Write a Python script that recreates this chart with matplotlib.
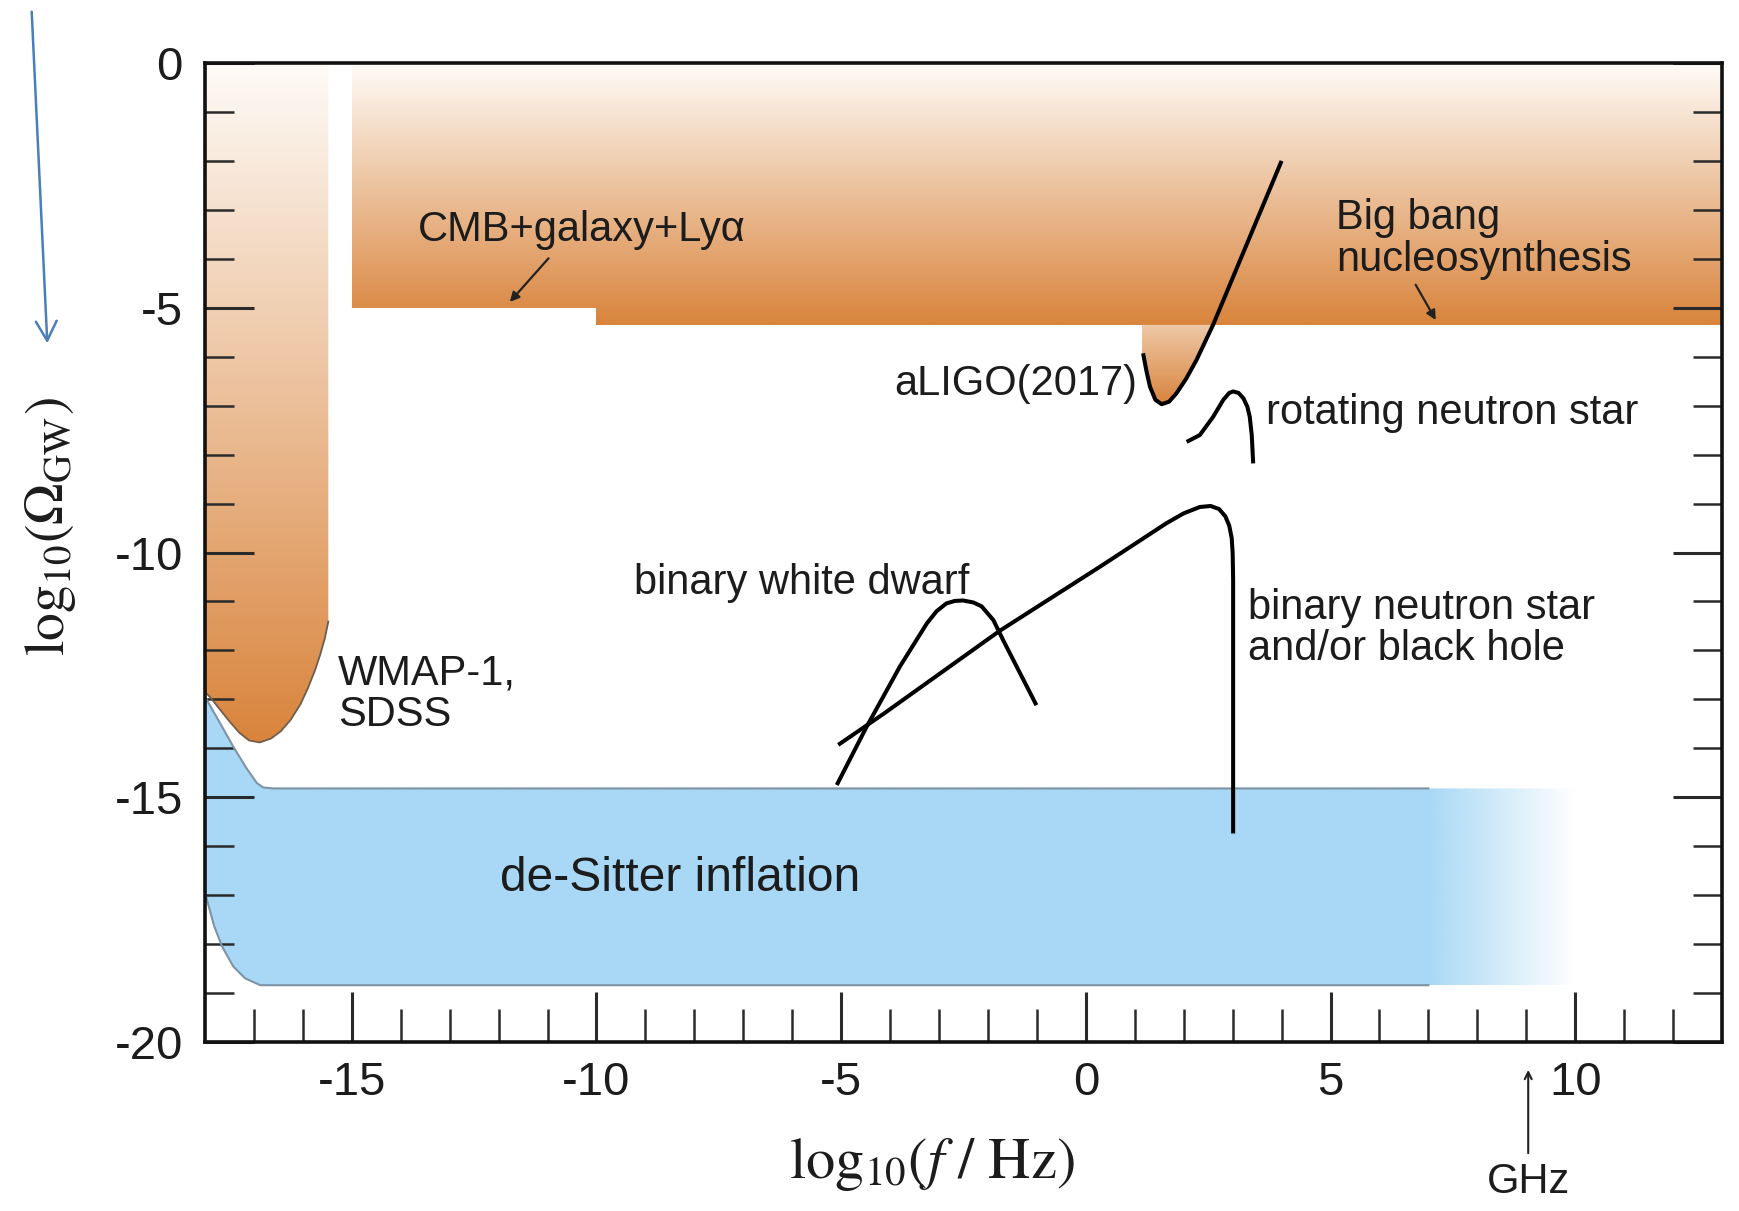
import numpy as np
import matplotlib
matplotlib.use("Agg")
import matplotlib.pyplot as plt
from matplotlib.patches import Polygon
from matplotlib.colors import LinearSegmentedColormap, to_rgb

plt.rcParams['font.family'] = ['Liberation Sans', 'DejaVu Sans']
plt.rcParams['axes.unicode_minus'] = False
plt.rcParams['mathtext.fontset'] = 'stix'

# ---------------- data (log10 f [Hz], log10 Omega_GW) ----------------
xlim = (-18, 13)
ylim = (-20, 0)
x_major = [-15, -10, -5, 0, 5, 10]
y_major = [0, -5, -10, -15, -20]

# WMAP-1 / SDSS excluded region (lower boundary)
wmap_x = [-15.48, -15.48, -15.55, -15.65, -15.75, -15.9, -16.05, -16.25, -16.45, -16.65, -16.88,
          -17.1, -17.3, -17.5, -17.7, -17.9, -18.0]
wmap_y = [0.0, -11.41, -11.75, -12.1, -12.4, -12.78, -13.1, -13.42, -13.65, -13.8, -13.88,
          -13.84, -13.68, -13.45, -13.2, -12.95, -12.85]

# CMB+galaxy+Ly-alpha and BBN bounds (step)
cmb_x = [-15.0, -10.0]
cmb_y = -5.0
bbn_x = [-10.0, 13.0]
bbn_y = -5.35

# aLIGO (2017) sensitivity curve
ligo_x = [1.17, 1.24, 1.31, 1.42, 1.55, 1.7, 1.85, 2.05, 2.26, 2.6, 4.0]
ligo_y = [-5.93, -6.3, -6.61, -6.88, -6.97, -6.92, -6.75, -6.45, -6.07, -5.35, -2.0]
ligo_left = 1.14

# rotating neutron star
rns_x = [2.06, 2.33, 2.6, 2.81, 2.93, 3.01, 3.12, 3.22, 3.3, 3.35, 3.39, 3.42]
rns_y = [-7.74, -7.6, -7.23, -6.88, -6.74, -6.71, -6.74, -6.85, -7.02, -7.23, -7.6, -8.18]

# binary white dwarf
bwd_x = [-5.09, -4.48, -3.8, -3.25, -3.05, -2.85, -2.68, -2.51, -2.3, -2.13, -1.89, -1.69, -1.01]
bwd_y = [-14.75, -13.56, -12.33, -11.45, -11.2, -11.04, -10.99, -10.98, -11.02, -11.1, -11.38, -11.79, -13.12]

# binary neutron star and/or black hole
bns_x = [-5.06, -4.14, -1.76, 0.29, 1.65, 2.0, 2.33, 2.55, 2.72, 2.85, 2.93, 2.98, 3.0, 3.01, 3.01]
bns_y = [-13.93, -13.3, -11.6, -10.29, -9.4, -9.2, -9.07, -9.05, -9.11, -9.26, -9.45, -9.7, -10.0, -10.56, -15.74]

# de-Sitter inflation band
ds_top_x = [-18.0, -17.97, -17.69, -17.42, -17.15, -16.94, -16.81, -16.6]
ds_top_y = [-12.9, -13.0, -13.49, -13.97, -14.41, -14.71, -14.8, -14.82]
ds_bot_x = [-18.0, -17.97, -17.81, -17.65, -17.42, -17.18, -16.87, -16.6]
ds_bot_y = [-17.0, -17.06, -17.64, -18.05, -18.46, -18.7, -18.84, -18.84]
ds_solid_end = 7.0
ds_fade_end = 10.0

ghz_x = 9.04

# ---------------- figure ----------------
W, H = 1739, 1211
fig = plt.figure(figsize=(W / 100, H / 100), dpi=100)
ax = fig.add_axes([205 / W, 1 - 1042 / H, 1517 / W, 979 / H])

orange_cmap = LinearSegmentedColormap.from_list('org', ['#FEFBF7', '#D9843C'])
blue = '#A8D8F5'
text_col = '#1c1c1c'


def grad_fill(verts, y0, y1, v0=0.0, v1=1.0):
    poly = Polygon(verts, closed=True, facecolor='none', edgecolor='none', transform=ax.transData)
    ax.add_patch(poly)
    xs = [v[0] for v in verts]
    g = np.linspace(v1, v0, 256)[:, None]   # bottom row = v1 (orange)
    im = ax.imshow(g, extent=[min(xs), max(xs), y0, y1], origin='lower', aspect='auto',
                   cmap=orange_cmap, vmin=0, vmax=1, interpolation='bilinear', zorder=1)
    im.set_clip_path(poly)


# WMAP region
wmap_verts = [(-18.0, 0.0)] + list(zip(wmap_x, wmap_y))
grad_fill(wmap_verts, min(wmap_y), 0.0)
ax.plot(wmap_x[1:], wmap_y[1:], color='#6e5c4c', lw=1.3, zorder=1.6)

# CMB + BBN band
band_verts = [(cmb_x[0], 0.0), (bbn_x[1], 0.0), (bbn_x[1], bbn_y), (bbn_x[0], bbn_y),
              (cmb_x[1], cmb_y), (cmb_x[0], cmb_y)]
grad_fill(band_verts, bbn_y, 0.0)

# aLIGO filled area below the band
ligo_cross = [(x, y) for x, y in zip(ligo_x, ligo_y) if y <= bbn_y]
ligo_verts = [(ligo_left, bbn_y), (ligo_left, ligo_y[0])] + ligo_cross
grad_fill(ligo_verts, min(ligo_y), bbn_y, 0.42, 1.0)

# de-Sitter inflation band
ds_verts = list(zip(ds_top_x, ds_top_y)) + [(ds_fade_end, ds_top_y[-1]), (ds_fade_end, ds_bot_y[-1])] \
    + list(zip(ds_bot_x[::-1], ds_bot_y[::-1]))
ds_poly = Polygon(ds_verts, closed=True, facecolor='none', edgecolor='none', transform=ax.transData)
ax.add_patch(ds_poly)
xs = np.linspace(xlim[0], ds_fade_end, 800)
rgba = np.zeros((1, xs.size, 4))
rgba[..., :3] = to_rgb(blue)
rgba[0, :, 3] = np.clip((ds_fade_end - xs) / (ds_fade_end - ds_solid_end), 0, 1)
im = ax.imshow(rgba, extent=[xlim[0], ds_fade_end, min(ds_bot_y), max(ds_top_y)], origin='lower',
               aspect='auto', interpolation='bilinear', zorder=1)
im.set_clip_path(ds_poly)
ax.plot(ds_top_x[1:] + [ds_solid_end], ds_top_y[1:] + [ds_top_y[-1]], color='#7d93a6', lw=1.5, zorder=1.6)
ax.plot(ds_bot_x[1:] + [ds_solid_end], ds_bot_y[1:] + [ds_bot_y[-1]], color='#7d93a6', lw=1.5, zorder=1.6)

# black curves
for cx, cy in [(ligo_x, ligo_y), (rns_x, rns_y), (bwd_x, bwd_y), (bns_x, bns_y)]:
    ax.plot(cx, cy, color='black', lw=2.9, solid_capstyle='butt', solid_joinstyle='round', zorder=3)

# labels
fs = 30
ax.text(-13.64, -3.63, 'CMB+galaxy+Lyα', fontsize=fs, color=text_col, ha='left', va='baseline', zorder=4)
ax.text(-15.28, -12.9, 'WMAP-1,\nSDSS', fontsize=fs, color=text_col, ha='left', va='center',
        linespacing=1.05, zorder=4)
ax.text(5.11, -3.6, 'Big bang\nnucleosynthesis', fontsize=fs, color=text_col, ha='left', va='center',
        linespacing=1.05, zorder=4)
ax.text(1.05, -6.55, 'aLIGO(2017)', fontsize=fs, color=text_col, ha='right', va='center', zorder=4)
ax.text(3.69, -7.15, 'rotating neutron star', fontsize=fs, color=text_col, ha='left', va='center', zorder=4)
ax.text(-9.23, -10.62, 'binary white dwarf', fontsize=fs, color=text_col, ha='left', va='center', zorder=4)
ax.text(3.31, -11.55, 'binary neutron star\nand/or black hole', fontsize=fs, color=text_col, ha='left',
        va='center', linespacing=1.05, zorder=4)
ax.text(-11.97, -16.67, 'de-Sitter inflation', fontsize=34.5, color=text_col, ha='left', va='center', zorder=4)

arrow_kw = dict(arrowstyle='-|>,head_length=0.55,head_width=0.28', color='#222222', lw=1.6,
                shrinkA=0, shrinkB=0)
ax.annotate('', xy=(-11.77, -4.88), xytext=(-10.98, -3.99), arrowprops=arrow_kw, zorder=4)
ax.annotate('', xy=(7.15, -5.25), xytext=(6.74, -4.53), arrowprops=arrow_kw, zorder=4)

# GHz marker below the axis
ax.annotate('', xy=(ghz_x, -20.57), xytext=(ghz_x, -22.27), annotation_clip=False,
            arrowprops=dict(arrowstyle='->,head_length=0.5,head_width=0.25', color='#222222', lw=1.5,
                            shrinkA=0, shrinkB=0))
ax.text(ghz_x, -22.85, 'GHz', fontsize=fs, color=text_col, ha='center', va='center', clip_on=False)

# blue arrow in the top-left corner
ax.annotate('', xy=(47.3 / W, 1 - 343.3 / H), xytext=(31.7 / W, 1 - 11.7 / H), xycoords='figure fraction',
            textcoords='figure fraction', annotation_clip=False,
            arrowprops=dict(arrowstyle='->,head_length=1.4,head_width=0.75', color='#4a7ebb', lw=1.8,
                            shrinkA=0, shrinkB=0))

# axes styling
ax.set_xlim(*xlim)
ax.set_ylim(*ylim)
ax.set_xticks(x_major)
ax.set_yticks(y_major)
ax.set_xticks(np.arange(-17, 13, 1), minor=True)
ax.set_yticks(np.arange(-19, 0, 1), minor=True)
ax.tick_params(which='both', direction='in', top=False, right=True, colors='#2a2a2a',
               labelsize=34, labelcolor=text_col)
ax.tick_params(axis='x', which='major', length=36, width=2.2, pad=14)
ax.tick_params(axis='x', which='minor', length=24, width=1.8)
ax.tick_params(axis='y', which='major', length=35, width=2.2, pad=16)
ax.tick_params(axis='y', which='minor', length=21, width=1.8)
for s in ax.spines.values():
    s.set_linewidth(2.6)
    s.set_color('#111111')
    s.set_zorder(5)

fig.text(932 / W, 1 - 1164 / H, r'$\mathrm{log}_{10}(f\ /\ \mathrm{Hz})$', fontsize=42,
         ha='center', va='center', color=text_col)
fig.text(50 / W, 1 - 527 / H, r'$\mathrm{log}_{10}(\Omega_{\mathrm{GW}})$', fontsize=40,
         ha='center', va='center', rotation=90, color=text_col)

fig.savefig('out.png', dpi=100)
